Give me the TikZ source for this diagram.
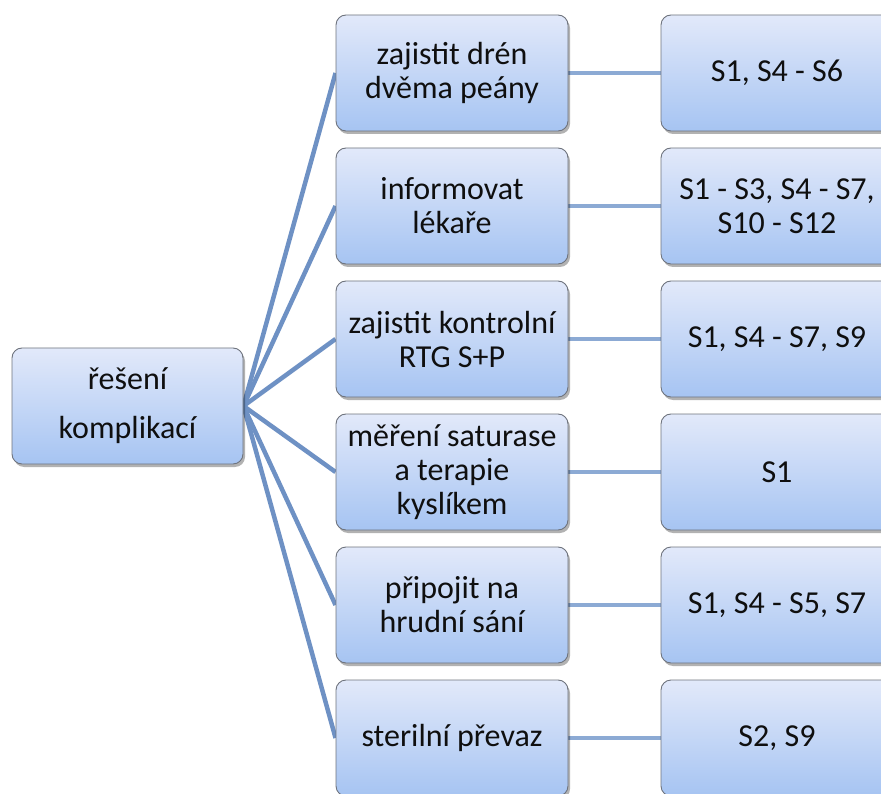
\documentclass[tikz,border=0pt]{standalone}
\usepackage{fontspec}
\setmainfont{Carlito}
\usetikzlibrary{shadows,backgrounds}
\definecolor{boxtop}{RGB}{226,233,250}
\definecolor{boxbot}{RGB}{166,196,242}
\definecolor{boxline}{RGB}{110,115,125}
\definecolor{fanline}{RGB}{110,145,196}
\definecolor{linkline}{RGB}{140,170,212}
\definecolor{txt}{RGB}{15,15,15}
\tikzset{
  box/.style={draw=boxline, line width=0.9pt, rounded corners=10pt,
    top color=boxtop, bottom color=boxbot,
    minimum width=232pt, minimum height=116pt, inner sep=2pt,
    align=center, text=txt,
    font=\fontsize{32pt}{34pt}\selectfont,
    drop shadow={shadow xshift=2pt, shadow yshift=-3pt, opacity=0.3, fill=black}},
  fan/.style={draw=fanline, line width=4.5pt},
  link/.style={draw=linkline, line width=4.5pt}
}
\begin{document}
\begin{tikzpicture}[x=1pt, y=-1pt]
  \clip (0,0) rectangle (881,794);
  \useasboundingbox (0,0) rectangle (881,794);

  \node[box, minimum width=231pt] (root) at (127.5,406) {řešení\\[15pt]komplikací};

  \node[box] (m1) at (452,73)  {zajistit drén\\dvěma peány};
  \node[box] (m2) at (452,206) {informovat\\lékaře};
  \node[box] (m3) at (452,339) {zajistit kontrolní\\RTG S+P};
  \node[box] (m4) at (452,472) {měření saturase\\a terapie\\kyslíkem};
  \node[box] (m5) at (452,605) {připojit na\\hrudní sání};
  \node[box] (m6) at (452,738) {sterilní převaz};

  \node[box] (r1) at (777,73)  {S1, S4 - S6};
  \node[box] (r2) at (777,206) {S1 - S3, S4 - S7,\\S10 - S12};
  \node[box] (r3) at (777,339) {S1, S4 - S7, S9};
  \node[box] (r4) at (777,472) {S1};
  \node[box] (r5) at (777,605) {S1, S4 - S5, S7};
  \node[box] (r6) at (777,738) {S2, S9};

  % connectors behind the boxes
  \begin{scope}[on background layer]
    \foreach \i in {1,...,6} {
      \draw[fan] (root.east) -- (m\i.west);
      \draw[link] (m\i.east) -- (r\i.west);
    }
  \end{scope}
\end{tikzpicture}
\end{document}
